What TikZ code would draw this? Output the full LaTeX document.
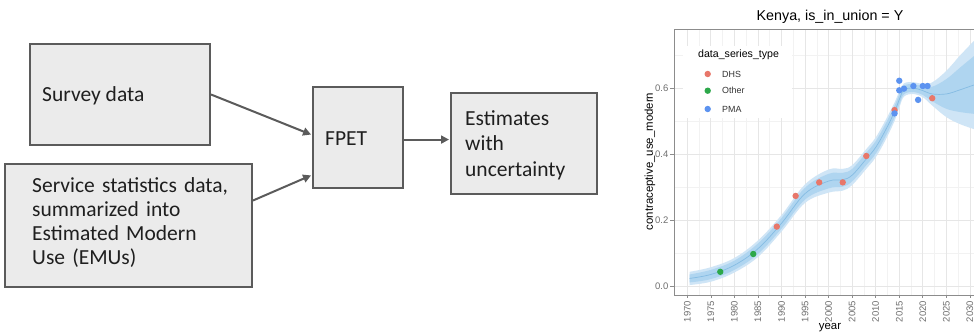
\documentclass[tikz,border=0pt]{standalone}
\usepackage{fontspec}
\setmainfont{Carlito}
\newfontfamily\plotfont{Liberation Sans}
\usetikzlibrary{arrows.meta,calc}

\definecolor{boxfill}{HTML}{EBEBEB}
\definecolor{boxline}{HTML}{5B5B5B}
\definecolor{dhs}{HTML}{E8776A}
\definecolor{oth}{HTML}{2DA84A}
\definecolor{pma}{HTML}{5C93F0}
\definecolor{bandout}{HTML}{CFE5F6}
\definecolor{bandin}{HTML}{AFD5F0}
\definecolor{medline}{HTML}{85BCE3}
\definecolor{gridmaj}{HTML}{E6E6E6}
\definecolor{gridmin}{HTML}{F2F2F2}
\definecolor{tickcol}{HTML}{6E6E6E}

\tikzset{
  box/.style={draw=boxline, fill=boxfill, line width=2pt, rectangle, inner sep=0pt},
  lbl/.style={inner sep=0pt, font=\fontsize{21.5pt}{24.3pt}\selectfont, text=black!88},
  conn/.style={draw=boxline, line width=2pt, -{Triangle[length=8pt,width=8pt]}, shorten >=1pt},
  gmaj/.style={draw=gridmaj, line width=0.8pt},
  gmin/.style={draw=gridmin, line width=0.5pt},
  tickl/.style={font=\plotfont\fontsize{9.5pt}{10pt}\selectfont, text=tickcol, inner sep=0pt},
  axt/.style={font=\plotfont\fontsize{11.4pt}{12pt}\selectfont, inner sep=0pt},
  dot/.style={radius=3.2pt}
}

\begin{document}
\begin{tikzpicture}[x=1pt,y=-1pt]
\useasboundingbox (0,0) rectangle (974,333);
\clip (0,0) rectangle (974,333);

% ---------- left flow diagram ----------
\node[box, minimum width=180pt, minimum height=101pt] (survey) at (120,94.5) {};
\node[box, minimum width=247pt, minimum height=123pt] (service) at (128.5,225.5) {};
\node[box, minimum width=90pt, minimum height=101pt] (fpet) at (358,137.5) {};
\node[box, minimum width=146pt, minimum height=101pt] (est) at (524,143.5) {};

\node[lbl, anchor=base west] (surveyt) at (42,101.7) {Survey data};
\node[lbl, anchor=base west, align=left, text width=215pt] (servicet) at (32,192)
  {Service statistics data,\\summarized into\\Estimated Modern\\Use (EMUs)};
\node[lbl, anchor=base west] (fpett) at (325,145) {FPET};
\node[lbl, anchor=base west, align=left, text width=125pt,
      font=\fontsize{21.5pt}{25.8pt}\selectfont] (estt) at (465,125)
  {Estimates\\with\\uncertainty};

\draw[conn] (survey.east) -- ($(fpet.north west)!0.475!(fpet.south west)$);
\draw[conn] ($(service.north east)!0.3!(service.south east)$) -- ($(fpet.north west)!0.864!(fpet.south west)$);
\coordinate (fpo) at ($(fpet.north east)!0.52!(fpet.south east)$);
\draw[conn] (fpo) -- (fpo -| est.west);

% ---------- right plot ----------
\begin{scope}[shift={(687.3,286)}, x=4.71pt, y=330pt]
  \fill[white] (-2.82,-0.027) rectangle (62,0.779);
  \foreach \v in {0.1,0.3,0.5,0.7} \draw[gmin] (-2.82,\v) -- (62,\v);
  \foreach \t in {2.5,7.5,...,62.5} \draw[gmin] (\t,-0.027) -- (\t,0.779);
  \foreach \v in {0,0.2,0.4,0.6} \draw[gmaj] (-2.82,\v) -- (62,\v);
  \foreach \t in {0,5,...,60} \draw[gmaj] (\t,-0.027) -- (\t,0.779);
  % legend background
  \fill[white] (-0.9,0.509) rectangle (22.2,0.727);

  % outer band
  \fill[bandout] plot[smooth, tension=0.6] coordinates {
    (0.5,.043) (5,.057) (10,.085) (15,.138) (20,.215) (25,.308) (30,.353) (33,.355)
    (35,.366) (38,.415) (40,.45) (42,.50) (44,.556) (45,.59) (46,.614) (48,.618)
    (50,.612) (52,.617) (55,.652) (58,.70) (62,.76)}
    -- plot[smooth, tension=0.6] coordinates {
    (62,.47) (58,.49) (55,.512) (52,.547) (50,.572) (48,.582) (46,.574) (45,.54)
    (44,.50) (42,.44) (40,.39) (38,.355) (35,.306) (33,.289) (30,.283) (25,.252)
    (20,.165) (15,.088) (10,.041) (5,.013) (0.5,.003)} -- cycle;
  % inner band
  \fill[bandin] plot[smooth, tension=0.6] coordinates {
    (0.5,.035) (5,.049) (10,.077) (15,.129) (20,.206) (25,.298) (30,.34) (33,.343)
    (35,.355) (38,.404) (40,.439) (42,.489) (44,.546) (45,.581) (46,.607) (48,.612)
    (50,.605) (52,.604) (55,.627) (58,.663) (62,.71)}
    -- plot[smooth, tension=0.6] coordinates {
    (62,.52) (58,.527) (55,.537) (52,.56) (50,.579) (48,.588) (46,.581) (45,.549)
    (44,.51) (42,.451) (40,.401) (38,.366) (35,.317) (33,.301) (30,.296) (25,.262)
    (20,.174) (15,.097) (10,.049) (5,.021) (0.5,.011)} -- cycle;
  % median
  \draw[medline, line width=0.7pt] plot[smooth, tension=0.6] coordinates {
    (0.5,.023) (5,.035) (10,.063) (15,.113) (20,.19) (25,.28) (30,.318) (33,.322)
    (35,.336) (38,.385) (40,.42) (42,.47) (44,.528) (45,.565) (46,.594) (48,.60)
    (50,.592) (52,.582) (55,.582) (58,.595) (62,.615)};

  % data points
  \foreach \t/\v in {7/.043, 14/.097} \fill[oth] (\t,\v) circle[dot];
  \foreach \t/\v in {19/.18, 23/.273, 28/.314, 33/.314, 38/.394, 44/.533, 52/.569} \fill[dhs] (\t,\v) circle[dot];
  \foreach \t/\v in {44/.523, 45/.622, 45/.593, 46/.598, 48/.606, 49/.564, 50/.606, 51/.606} \fill[pma] (\t,\v) circle[dot];

  % panel border
  \draw[black!45, line width=0.8pt] (-2.82,-0.027) rectangle (62,0.779);

  % axes ticks and labels
  \foreach \v/\l in {0/0.0, 0.2/0.2, 0.4/0.4, 0.6/0.6} {
    \draw[black!45, line width=0.7pt] (-2.82,\v) -- ++(-4pt,0);
    \node[tickl, anchor=east] at ([xshift=-5.5pt]-2.82,\v) {\l};
  }
  \foreach \t in {0,5,...,60} {
    \draw[black!45, line width=0.7pt] (\t,-0.027) -- ++(0,-3.5pt);
    \pgfmathtruncatemacro{\yr}{1970+\t}
    \node[tickl, anchor=east, rotate=90] at ([yshift=-6pt]\t,-0.027) {\yr};
  }
\end{scope}

% legend
\node[axt, anchor=west, font=\plotfont\fontsize{10.6pt}{11pt}\selectfont] (legt) at (698,55) {data\_series\_type};
\fill[dhs] (707.7,74) circle[dot];
\fill[oth] (707.7,90.7) circle[dot];
\fill[pma] (707.7,109) circle[dot];
\node[tickl, anchor=west, text=black!80, font=\plotfont\fontsize{8.9pt}{9pt}\selectfont] (l1) at (722,74) {DHS};
\node[tickl, anchor=west, text=black!80, font=\plotfont\fontsize{8.9pt}{9pt}\selectfont] (l2) at (722,90.7) {Other};
\node[tickl, anchor=west, text=black!80, font=\plotfont\fontsize{8.9pt}{9pt}\selectfont] (l3) at (722,109) {PMA};

% titles
\node[axt, font=\plotfont\fontsize{14.3pt}{15pt}\selectfont] (title) at (830,17) {Kenya, is\_in\_union = Y};
\node[axt, rotate=90] (ylab) at (650,161.5) {contraceptive\_use\_modern};
\node[axt] (xlab) at (830,328) {year};
\end{tikzpicture}
\end{document}
